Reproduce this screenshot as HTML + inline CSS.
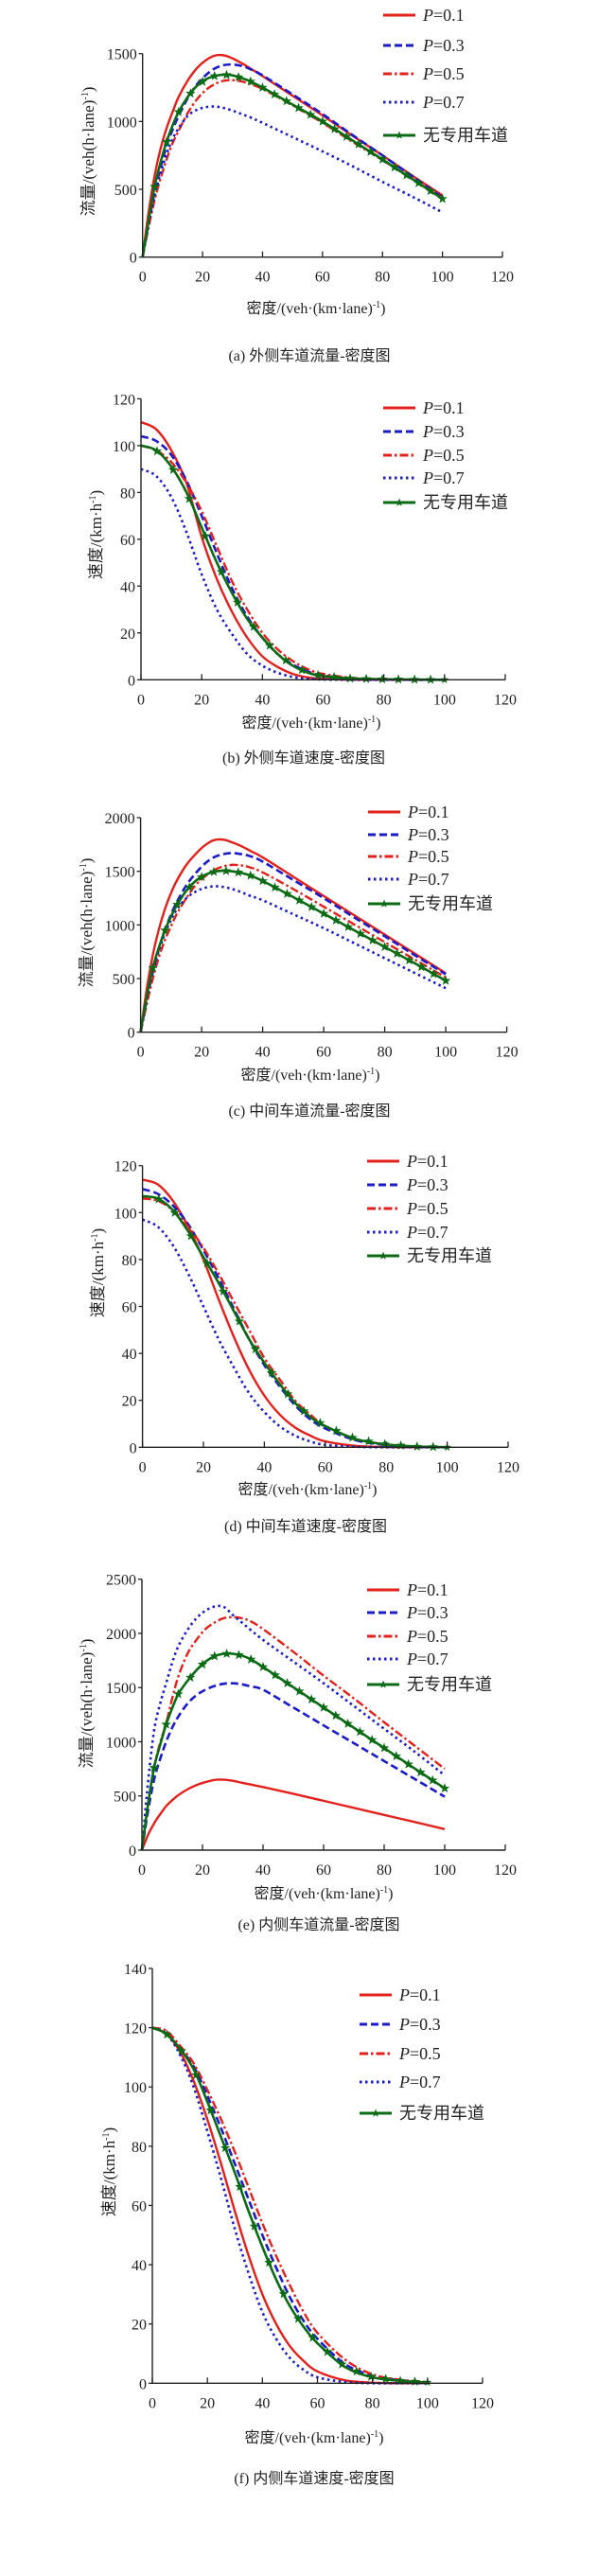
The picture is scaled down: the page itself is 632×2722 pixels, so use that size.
<!DOCTYPE html>
<html><head><meta charset="utf-8">
<style>
html,body{margin:0;padding:0;background:#fff;}
svg{display:block;}
text{font-family:"Liberation Serif","Noto Serif CJK SC","Noto Sans CJK SC",serif;fill:#222;}
.cjk{font-family:"Liberation Serif","Noto Sans CJK SC",sans-serif;}
</style></head>
<body>
<svg id="fig" width="632" height="2722" viewBox="0 0 632 2722" xmlns="http://www.w3.org/2000/svg"></svg>
<script>
// ---- data ----
const flowX = [0,2,4,6,8,10,12,15,18,21,24,27,30,33,36,40,50,60,70,80,90,100];
const speedX = [0,5,10,15,20,25,30,35,40,45,50,55,60,70,80,90,100];
const seriesNames = ["P=0.1","P=0.3","P=0.5","P=0.7","无专用车道"];

const aP1 = [0,330,600,800,950,1070,1180,1300,1390,1450,1485,1488,1465,1430,1390,1335,1190,1045,895,750,600,455];
const aP3 = [0,250,480,660,820,940,1040,1170,1270,1340,1390,1415,1420,1410,1385,1340,1200,1055,900,750,595,440];
const aP5 = [0,220,420,580,720,840,930,1060,1160,1230,1275,1300,1305,1295,1275,1240,1120,990,850,715,575,435];
const aP7 = [0,240,450,620,760,870,950,1040,1085,1105,1110,1100,1080,1055,1030,990,885,780,670,555,445,330];
const aG  = [0,270,520,700,850,970,1070,1180,1260,1310,1335,1345,1340,1320,1295,1250,1125,1000,860,720,575,430];

const bP1 = [110,107,98,84,61,43,29,18,10,5.5,2.5,1,0.4,0,0,0,0];
const bP3 = [104,102,96,85,70,54,39,27,18,11,6.5,3.5,1.8,0.5,0.1,0,0];
const bP5 = [100,98,93,84,72,57,42,30,20,13,8,4.5,2.5,0.8,0.2,0,0];
const bP7 = [90,87,78,63,45,30,19.5,11,6,3,1.2,0.4,0.1,0,0,0,0];
const bG  = [100,98,91,80,65,50,37,26,18,11,6,3,1.5,0.5,0.2,0.1,0];

const cP1 = [0,400,720,960,1150,1300,1420,1560,1660,1740,1790,1795,1770,1735,1690,1630,1450,1270,1090,910,730,550];
const cP3 = [0,300,560,780,950,1100,1220,1370,1480,1570,1630,1660,1670,1660,1640,1590,1420,1250,1070,895,715,540];
const cP5 = [0,260,500,700,860,990,1110,1250,1370,1450,1510,1545,1560,1555,1535,1490,1335,1170,1005,840,675,510];
const cP7 = [0,300,560,760,920,1050,1150,1250,1310,1345,1360,1355,1335,1305,1270,1230,1100,970,830,690,550,410];
const cG  = [0,330,600,790,950,1080,1190,1320,1410,1465,1495,1505,1500,1485,1460,1410,1260,1105,950,795,640,480];

const dP1 = [114,112,105,94,80,63,47,33,22,14,8.5,5,2.5,0.6,0.1,0,0];
const dP3 = [110,108,103,95,84,72,59,46,35,26,18,12,8,3,1,0.2,0];
const dP5 = [106,105,101,94,85,74,62,50,38,29,20,14,9,3.5,1.2,0.3,0];
const dP7 = [97,94,86,74,60,46,34,23,15,9,5,2.5,1,0.2,0,0,0];
const dG  = [107,106,101,92,81,70,58,46,36,27,19,13,9,3.5,1.2,0.3,0];

const eP1 = [0,140,246,330,406,460,507,560,600,628,648,650,640,622,605,582,520,455,390,325,260,194];
const eP3 = [0,360,650,840,1000,1130,1232,1350,1430,1480,1515,1535,1540,1530,1510,1480,1316,1151,987,822,658,493];
const eP5 = [0,420,760,990,1170,1400,1600,1810,1940,2040,2100,2140,2150,2140,2110,2040,1830,1610,1400,1180,965,750];
const eP7 = [0,620,1100,1350,1540,1730,1880,2030,2140,2210,2248,2245,2170,2100,2030,1940,1740,1540,1330,1120,910,690];
const eG  = [0,420,760,970,1160,1310,1440,1560,1660,1740,1790,1812,1812,1795,1760,1690,1503,1316,1129,942,755,570];

const fP1 = [120,118,112,102,89,74,58,43,30,20,12.5,7.5,4,1,0.2,0,0];
const fP3 = [120,118,113,107,97,86,74,62,50,39,29,21,15,6.5,2.5,1,0.3];
const fP5 = [120,119,114,108,99,89,78,66,54,43,33,24,17,8,3,1.2,0.4];
const fP7 = [120,118,111,100,85,69,52,37,24,15,8.5,4.5,2,0.4,0,0,0];
const fG  = [120,118,113,106,95,83,71,58,46,35,26,19,13.5,5.5,2,0.8,0.3];

const xTicks = [0,20,40,60,80,100,120];
const flowTicksA = [0,500,1000,1500];
const flowTicksC = [0,500,1000,1500,2000];
const flowTicksE = [0,500,1000,1500,2000,2500];
const speedTicks120 = [0,20,40,60,80,100,120];
const speedTicks140 = [0,20,40,60,80,100,120,140];

// ---- layout (non-data) ----
const styles = [
  {color:"#e3211c", dash:null, w:2.4},
  {color:"#1b1bc8", dash:"8,4", w:2.6},
  {color:"#e3211c", dash:"9,3,2.5,3", w:2.4},
  {color:"#1b1bc8", dash:"2.5,3.5", w:2.6},
  {color:"#0b6b14", dash:null, w:2.6}
];
const panels = [
  {id:"a", xs:flowX, ys:[aP1,aP3,aP5,aP7,aG], ticks:flowTicksA, ymax:1500, x0:150.7, x1:531, y0:271.7, yt:56.7,
   ylab:"流量/(veh(h·lane)", ylx:99, yly:160, xly:325, xlx:334, cap:"(a) 外侧车道流量-密度图", capx:327, capy:375,
   legX:405, legY:[16,48,78,108,143], step:4},
  {id:"b", xs:speedX, ys:[bP1,bP3,bP5,bP7,bG], ticks:speedTicks120, ymax:120, x0:149, x1:534, y0:718.3, yt:421.4,
   ylab:"速度/(km·h", ylx:107, yly:565, xly:763, xlx:329, cap:"(b) 外侧车道速度-密度图", capx:321, capy:800,
   legX:405, legY:[431,456,481,505,531], step:5.3},
  {id:"c", xs:flowX, ys:[cP1,cP3,cP5,cP7,cG], ticks:flowTicksC, ymax:2000, x0:148.6, x1:535.6, y0:1090.7, yt:864,
   ylab:"流量/(veh(h·lane)", ylx:97, yly:975, xly:1135, xlx:328, cap:"(c) 中间车道流量-密度图", capx:327, capy:1173,
   legX:389, legY:[858,882,905,929,955], step:4},
  {id:"d", xs:speedX, ys:[dP1,dP3,dP5,dP7,dG], ticks:speedTicks120, ymax:120, x0:150.6, x1:537, y0:1529.3, yt:1231.7,
   ylab:"速度/(km·h", ylx:109, yly:1345, xly:1573, xlx:325, cap:"(d) 中间车道速度-密度图", capx:323, capy:1612,
   legX:388, legY:[1227,1252,1277,1302,1327], step:5.3},
  {id:"e", xs:flowX, ys:[eP1,eP3,eP5,eP7,eG], ticks:flowTicksE, ymax:2500, x0:150, x1:534, y0:1955, yt:1668.7,
   ylab:"流量/(veh(h·lane)", ylx:97, yly:1800, xly:2000, xlx:342, cap:"(e) 内侧车道流量-密度图", capx:337, capy:2033,
   legX:388, legY:[1680,1704,1729,1753,1780], step:4},
  {id:"f", xs:speedX, ys:[fP1,fP3,fP5,fP7,fG], ticks:speedTicks140, ymax:140, x0:161, x1:510, y0:2518.3, yt:2080,
   ylab:"速度/(km·h", ylx:121, yly:2295, xly:2575, xlx:332, cap:"(f) 内侧车道速度-密度图", capx:332, capy:2618,
   legX:380, legY:[2108,2139,2170,2200,2233], step:5.3}
];

const NS = "http://www.w3.org/2000/svg";
const svg = document.getElementById("fig");
function mk(tag, attrs, parent){
  const e = document.createElementNS(NS, tag);
  for (const k in attrs) e.setAttribute(k, attrs[k]);
  (parent||svg).appendChild(e);
  return e;
}
function smoothPath(pts){
  let d = "M"+pts[0][0].toFixed(2)+","+pts[0][1].toFixed(2);
  for (let i=0;i<pts.length-1;i++){
    const p0=pts[Math.max(0,i-1)], p1=pts[i], p2=pts[i+1], p3=pts[Math.min(pts.length-1,i+2)];
    const c1x=p1[0]+(p2[0]-p0[0])/6, c1y=p1[1]+(p2[1]-p0[1])/6;
    const c2x=p2[0]-(p3[0]-p1[0])/6, c2y=p2[1]-(p3[1]-p1[1])/6;
    d += " C"+c1x.toFixed(2)+","+c1y.toFixed(2)+" "+c2x.toFixed(2)+","+c2y.toFixed(2)+" "+p2[0].toFixed(2)+","+p2[1].toFixed(2);
  }
  return d;
}
function starPath(cx, cy, r){
  let d="";
  for (let i=0;i<10;i++){
    const rr = i%2===0 ? r : r*0.42;
    const a = -Math.PI/2 + i*Math.PI/5;
    d += (i===0?"M":"L")+(cx+rr*Math.cos(a)).toFixed(2)+","+(cy+rr*Math.sin(a)).toFixed(2);
  }
  return d+"Z";
}
function interp(xs, ys, x){
  for (let i=0;i<xs.length-1;i++){
    if (x>=xs[i] && x<=xs[i+1]){
      const t=(x-xs[i])/(xs[i+1]-xs[i]);
      return ys[i]+t*(ys[i+1]-ys[i]);
    }
  }
  return ys[ys.length-1];
}

panels.forEach(p => {
  const g = mk("g", {});
  
  
  const sx = v => p.x0 + (v/120)*(p.x1-p.x0);
  const sy = v => p.y0 - (v/p.ymax)*(p.y0-p.yt);

  p.ys.forEach((arr, si) => {
    const st = styles[si];
    const pts = p.xs.map((x,i)=>[sx(x), sy(Math.max(0,arr[i]))]);
    const path = mk("path", {d:smoothPath(pts), fill:"none", stroke:st.color, "stroke-width":st.w, "stroke-linejoin":"round"}, g);
    if (st.dash) path.setAttribute("stroke-dasharray", st.dash);
    
    
    if (si===4){
      for (let x=p.step; x<=100.01; x+=p.step){
        const m = mk("path", {d:starPath(sx(x), sy(interp(p.xs, arr, x)), 4.6), fill:st.color, stroke:st.color, "stroke-width":0.6}, g);
        
        
      }
      const m = mk("path", {d:starPath(sx(100), sy(arr[arr.length-1]), 4.6), fill:st.color}, g);
      
      
    }
  });

  const ax = mk("path", {d:"M"+p.x0+","+p.yt+" L"+p.x0+","+p.y0+" L"+p.x1+","+p.y0, fill:"none", stroke:"#222", "stroke-width":1.4}, g);
  
  
  xTicks.forEach(t => {
    const x = sx(t);
    mk("line", {x1:x, x2:x, y1:p.y0, y2:p.y0-6, stroke:"#222", "stroke-width":1.3}, g);
    const tl = mk("text", {x:x, y:p.y0+26, "text-anchor":"middle", "font-size":16}, g);
    tl.textContent = t;
    
    
  });
  p.ticks.forEach(t => {
    const y = sy(t);
    mk("line", {x1:p.x0, x2:p.x0-4, y1:y, y2:y, stroke:"#222", "stroke-width":1.3}, g);
    const tl = mk("text", {x:p.x0-6, y:y+6, "text-anchor":"end", "font-size":16}, g);
    tl.textContent = t;
    
    
  });

  const yl = mk("text", {x:0, y:0, "text-anchor":"middle", "font-size":17, class:"cjk", transform:"translate("+p.ylx+","+p.yly+") rotate(-90)"}, g);
  yl.innerHTML = p.ylab + '<tspan dy="-6" font-size="10">-1</tspan><tspan dy="6">)</tspan>';
  
  
  const xl = mk("text", {x:p.xlx, y:p.xly+6, "text-anchor":"middle", "font-size":16, class:"cjk"}, g);
  xl.innerHTML = '密度/(veh·(km·lane)<tspan dy="-6" font-size="10">-1</tspan><tspan dy="6">)</tspan>';
  
  
  const cp = mk("text", {x:p.capx, y:p.capy+6, "text-anchor":"middle", "font-size":16, class:"cjk"}, g);
  cp.textContent = p.cap;
  
  

  const lg = mk("g", {}, g);
  
  
  seriesNames.forEach((nm, si) => {
    const st = styles[si];
    const y = p.legY[si];
    const e = mk("g", {}, lg);
    
    
    const ln = mk("line", {x1:p.legX, x2:p.legX+34, y1:y, y2:y, stroke:st.color, "stroke-width":3}, e);
    if (st.dash) ln.setAttribute("stroke-dasharray", st.dash);
    if (si===4) mk("path", {d:starPath(p.legX+17, y, 4.6), fill:st.color}, e);
    const t = mk("text", {x:p.legX+42, y:y+6, "font-size":18, class:"cjk"}, e);
    if (si<4) t.innerHTML = '<tspan font-style="italic">P</tspan>=0.'+[1,3,5,7][si];
    else t.textContent = nm;
  });
});
</script>
</body></html>
